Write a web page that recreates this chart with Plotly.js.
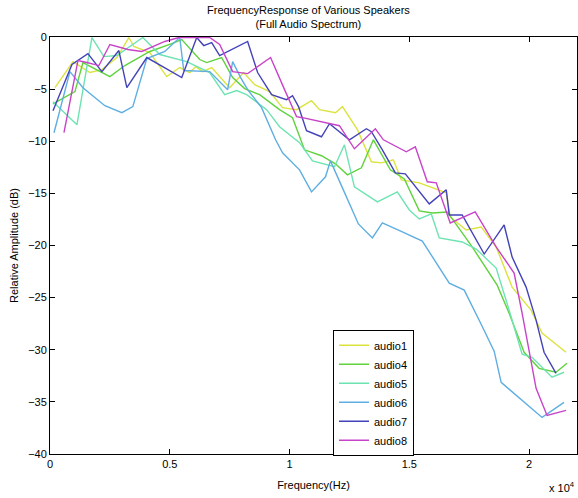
<!DOCTYPE html>
<html>
<head>
<meta charset="utf-8">
<script src="https://cdn.plot.ly/plotly-3.0.1.min.js"></script>
<style>html,body{margin:0;padding:0;background:#fff;}#chart{width:578px;height:498px;}</style>
</head>
<body>
<div id="chart"></div>
<script>
// Frequency (Hz) and relative amplitude (dB) for each speaker
const audio1_f = [208,958,1667,2167,2792,3292,3500,4167,4875,5417,5833,6083,6375,6750,7500,8083,8542,9167,9708,10292,10917,11250,11917,12208,12833,13417,13833,14333,14667,15417,16542,16708,17375,18000,18625,19292,20083,20542,21542];
const audio1_db = [-4.86,-2.36,-3.41,-3.13,-1.97,-0.05,-0.91,-1.49,-3.80,-2.93,-3.41,-2.84,-3.32,-2.93,-4.86,-3.41,-4.57,-5.24,-6.78,-6.97,-6.11,-6.97,-7.26,-6.68,-8.89,-11.97,-12.07,-11.78,-13.70,-13.99,-14.95,-17.26,-18.51,-18.22,-20.14,-23.99,-26.20,-28.41,-30.24];

const audio4_f = [125,1042,1375,1958,2500,3125,4167,5083,5500,6250,6542,7167,7625,8125,8750,9583,10125,10625,11333,11917,12417,13000,13500,14208,14792,15417,15958,16583,17625,18667,19167,19792,20417,21125,21583];
const audio4_db = [-6.42,-5.24,-2.45,-3.12,-3.80,-2.74,-1.39,-0.63,-0.24,-2.16,-2.45,-1.97,-3.89,-4.95,-5.53,-6.97,-7.74,-10.82,-11.39,-12.16,-13.22,-12.55,-9.86,-12.74,-13.61,-16.68,-16.88,-16.78,-20.14,-23.80,-26.49,-30.24,-31.78,-32.16,-31.30];

const audio5_f = [125,1125,1750,2250,2792,3875,4583,5708,6667,7292,7792,8208,9042,9583,10417,10958,11875,12292,12708,13250,13667,14500,15000,15417,15917,16250,17208,17792,18625,19167,19708,20125,20958,21458];
const audio5_db = [-6.20,-8.41,-0.05,-1.88,-1.78,-0.05,-1.68,-2.36,-3.41,-5.53,-5.14,-5.53,-6.97,-8.61,-10.14,-11.88,-12.45,-10.34,-14.38,-15.24,-15.82,-14.86,-16.59,-17.45,-16.97,-19.28,-19.66,-20.34,-22.16,-26.20,-30.43,-30.72,-32.64,-32.16];

const audio6_f = [167,833,1375,2292,3000,3458,4042,4792,5417,5583,6667,7417,7625,7958,8250,8833,9417,9708,10417,10917,11500,11708,12208,12875,13458,13875,14708,15542,16667,17292,17958,18542,18833,19708,20542,21458];
const audio6_db = [-9.18,-3.32,-4.86,-6.59,-7.26,-6.68,-2.07,-1.39,-0.05,-3.22,-3.32,-5.05,-2.36,-3.89,-5.05,-6.78,-9.86,-11.11,-12.74,-14.86,-13.41,-11.88,-14.47,-17.93,-19.28,-17.84,-18.70,-19.57,-23.61,-24.28,-27.36,-30.14,-33.13,-34.86,-36.49,-35.05];

const audio7_f = [125,917,1583,2167,2875,3208,4042,5500,6125,6417,6750,7083,8250,8667,9250,9875,10125,10375,10708,11333,11667,12500,13208,13417,13875,14417,14833,15833,16542,16667,17208,18125,18958,19292,19875,20292,20625,21125];
const audio7_db = [-7.07,-2.64,-1.59,-3.32,-1.30,-4.86,-1.97,-3.89,-0.05,-0.82,-0.53,-1.78,-0.43,-3.41,-5.53,-6.01,-5.63,-6.68,-8.99,-9.57,-8.32,-9.86,-8.80,-9.09,-10.82,-13.03,-13.13,-16.01,-14.66,-17.07,-17.07,-20.82,-18.03,-21.11,-23.99,-27.16,-30.24,-32.26];

const audio8_f = [583,1167,1542,2042,2500,3250,3833,4792,5417,6667,7083,7625,8250,9208,9792,10292,10542,12083,12708,13583,13917,14875,15250,15750,16125,16708,17750,18625,19375,19708,20292,20750,21542];
const audio8_db = [-9.18,-2.26,-2.45,-2.74,-0.72,-1.20,-1.39,-0.43,-0.02,-0.05,-0.72,-3.32,-3.51,-1.97,-5.05,-7.64,-7.74,-8.51,-10.72,-8.80,-9.86,-11.01,-10.53,-13.89,-13.99,-17.84,-16.78,-20.14,-22.64,-26.49,-33.70,-36.30,-35.82];

const seriesNames = ['audio1','audio4','audio5','audio6','audio7','audio8'];
const seriesF = [audio1_f, audio4_f, audio5_f, audio6_f, audio7_f, audio8_f];
const seriesDb = [audio1_db, audio4_db, audio5_db, audio6_db, audio7_db, audio8_db];
const seriesColors = ['#dce33f','#5fd23e','#6de3b2','#5eaee2','#4343b9','#c744c9'];

const xTickVals = [0, 5000, 10000, 15000, 20000];
const xTickText = ['0', '0.5', '1', '1.5', '2'];
const yTickVals = [0, -5, -10, -15, -20, -25, -30, -35, -40];

const traces = seriesNames.map((n, i) => ({
  type: 'scatter', mode: 'lines', name: n,
  x: seriesF[i], y: seriesDb[i],
  line: {color: seriesColors[i], width: 1.4}
}));

const fontFam = 'Liberation Sans, Arial, sans-serif';
const layout = {
  width: 578, height: 498,
  margin: {l: 50, r: 1, t: 37, b: 44},
  paper_bgcolor: '#fff', plot_bgcolor: '#fff',
  font: {family: fontFam, size: 11, color: '#000'},
  xaxis: {
    range: [0, 22000], tickvals: xTickVals, ticktext: xTickText,
    showline: true, mirror: 'ticks', linecolor: '#000', linewidth: 1,
    ticks: 'inside', ticklen: 5, tickcolor: '#000',
    showgrid: false, zeroline: false,
    tickfont: {family: fontFam, size: 11},
    title: {text: 'Frequency(Hz)', font: {family: fontFam, size: 11}, standoff: 12}
  },
  yaxis: {
    range: [-40, 0], tickvals: yTickVals,
    showline: true, mirror: 'ticks', linecolor: '#000', linewidth: 1,
    ticks: 'inside', ticklen: 5, tickcolor: '#000',
    showgrid: false, zeroline: false,
    tickfont: {family: fontFam, size: 11},
    title: {text: 'Relative Amplitude (dB)', font: {family: fontFam, size: 11}, standoff: 7}
  },
  legend: {
    x: 0.537, y: 0.298, xanchor: 'left', yanchor: 'top',
    bordercolor: '#000', borderwidth: 1, bgcolor: '#fff',
    font: {family: fontFam, size: 11}, tracegroupgap: 0
  },
  annotations: [
    {
      text: 'FrequencyResponse of Various Speakers<br>(Full Audio Spectrum)',
      xref: 'paper', yref: 'paper', x: 0.49, y: 1.085,
      xanchor: 'center', yanchor: 'top', showarrow: false,
      font: {family: fontFam, size: 11}
    },
    {
      text: 'x 10<sup>4</sup>', xref: 'paper', yref: 'paper',
      x: 1.0, y: -0.058, xanchor: 'right', yanchor: 'top', showarrow: false,
      font: {family: fontFam, size: 11}
    }
  ],
  showlegend: true
};

Plotly.newPlot('chart', traces, layout, {displayModeBar: false, staticPlot: true});
</script>
</body>
</html>
